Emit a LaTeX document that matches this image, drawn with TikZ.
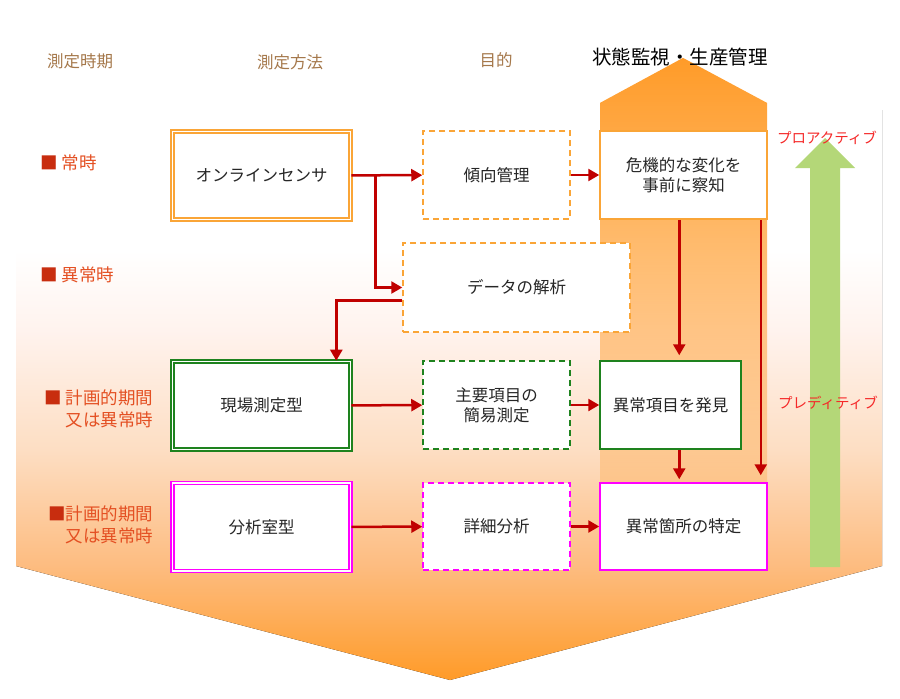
\documentclass[tikz,border=0pt]{standalone}
\usepackage{fontspec}
\setmainfont{Noto Sans CJK JP}
\usetikzlibrary{arrows.meta, positioning, calc, fadings}
\definecolor{BoxOrange}{RGB}{250,165,55}
\definecolor{BoxGreen}{RGB}{30,130,30}
\definecolor{BoxMagenta}{RGB}{255,0,255}
\definecolor{ArrowRed}{RGB}{192,0,0}
\definecolor{HeadBrown}{RGB}{165,120,75}
\definecolor{LabelRed}{RGB}{228,80,35}
\definecolor{MarkRed}{RGB}{200,45,15}
\definecolor{TermRed}{RGB}{245,40,40}
\definecolor{ArrowGreen}{RGB}{180,215,120}
\definecolor{HouseOrange}{RGB}{255,155,40}
\definecolor{BgA}{RGB}{255,243,238}
\definecolor{BgB}{RGB}{253,222,195}
\definecolor{BgC}{RGB}{253,188,128}
\definecolor{BgD}{RGB}{255,155,40}
\pgfdeclareverticalshading{bgshade}{100bp}{color(0bp)=(BgD); color(25bp)=(BgD); color(35bp)=(BgC); color(45.2bp)=(BgB); color(55.7bp)=(BgA); color(62.7bp)=(white); color(100bp)=(white)}
\tikzfading[name=housefade, top color=transparent!0, middle color=transparent!72, bottom color=transparent!88]

\begin{document}
\begin{tikzpicture}[
    x=1pt, y=-1pt,
    % --- STYLES ---
    % Base: white box, dark text
    box/.style={
        rectangle,
        inner sep=0pt,
        fill=white,
        align=center,
        text=black!85,
        font=\fontsize{16.5}{20}\selectfont
    },
    % Method: double border
    method/.style={
        box,
        line width=1.6pt,
        double=white,
        double distance=1.4pt,
        minimum width=178pt,
        minimum height=88pt
    },
    % Purpose: dashed border
    purpose/.style={
        box,
        line width=1.5pt,
        dash pattern=on 6pt off 4pt,
        minimum width=147pt,
        minimum height=88pt
    },
    % Result: plain border
    result/.style={
        box,
        line width=1.5pt,
        minimum height=88pt
    },
    % Arrows: dark red
    arrow/.style={
        ArrowRed,
        line width=2.5pt,
        -{Triangle[length=11pt, width=12pt]}
    },
    header/.style={text=HeadBrown, font=\fontsize{16.5}{18}\selectfont},
    period/.style={text=LabelRed, align=right, font=\fontsize{17.5}{22}\selectfont},
    term/.style={text=TermRed, font=\fontsize{14.5}{17}\selectfont}
]
\useasboundingbox (0,0) rectangle (900,699);

% --- BACKGROUND ARROWS ---
\fill[shading=bgshade] (16,110) -- (882,110) -- (882,566) -- (450,680) -- (16,566) -- cycle;
\fill[HouseOrange, path fading=housefade] (600,566) -- (600,103) -- (683,58) -- (767,103) -- (767,566) -- cycle;
\fill[ArrowGreen] (810,567) -- (810,168) -- (795,168) -- (825,138) -- (855,168) -- (840,168) -- (840,567) -- cycle;

% --- HEADERS ---
\node (hdrtime) [header] at (80,61) {測定時期};
\node (hdrmethod) [header] at (290,62) {測定方法};
\node (hdrpurpose) [header] at (496,60) {目的};
\node (title) [font=\fontsize{19.5}{22}\selectfont] at (680,57) {状態監視・生産管理};

% --- PERIOD LABELS ---
\node (always) [period, anchor=west] at (37,163) {\textcolor{MarkRed}{■} 常時};
\node (abnormal) [period, anchor=west] at (37,275) {\textcolor{MarkRed}{■} 異常時};
\node (planned) [period, anchor=east] at (157,409) {\textcolor{MarkRed}{■} 計画的期間\\又は異常時};
\node (plannedlab) [period, anchor=east] at (157,525) {\textcolor{MarkRed}{■}計画的期間\\又は異常時};

% --- ROW 1: ONLINE ---
\node (sensor) [method, draw=BoxOrange] at (261.5,175.5) {オンラインセンサ};
\node (trend) [purpose, draw=BoxOrange] at (496.5,175) {傾向管理};
\node (detect) [result, draw=BoxOrange, minimum width=167pt] at (683.5,175) {危機的な変化を\\事前に察知};

% --- ROW 2: ANALYSIS ---
\node (analysis) [purpose, draw=BoxOrange, minimum width=227pt, minimum height=89pt] at (516.5,287.5) {データの解析};

% --- ROW 3: FIELD ---
\node (field) [method, draw=BoxGreen] at (261.5,405.5) {現場測定型};
\node (simple) [purpose, draw=BoxGreen] at (496.5,405) {主要項目の\\簡易測定};
\node (findabn) [result, draw=BoxGreen, minimum width=141pt] at (670.5,405) {異常項目を発見};

% --- ROW 4: LAB ---
\node (lab) [method, draw=BoxMagenta] at (261.5,527) {分析室型};
\node (detail) [purpose, draw=BoxMagenta, minimum height=87pt] at (496.5,526.5) {詳細分析};
\node (locate) [result, draw=BoxMagenta, minimum width=167pt, minimum height=87pt] at (683.5,526.5) {異常箇所の特定};

% --- SIDE TERMS ---
\node (proactive) [term] at (827,138) {プロアクティブ};
\node (predictive) [term] at (828,403) {プレディティブ};

% --- CONNECTIONS ---
\coordinate (split) at ($(sensor.east)+(24,0)$);
\draw [arrow] (sensor) -- (trend);
\draw [arrow] (split) |- (analysis.west);
\draw [arrow] (trend) -- (detect);
\draw [arrow] ([yshift=-13pt]analysis.west) -| ([xshift=-15pt]field.north east);

% Down from the goal box
\draw [arrow, shorten >=5pt] ([xshift=80pt]findabn.north west |- detect.south) -- ([xshift=80pt]findabn.north west);
\draw [arrow, shorten >=7pt] ([xshift=-7pt]detect.south east) -- ([xshift=-7pt]locate.north east);
\draw [arrow, shorten >=3pt] ([xshift=80pt]findabn.south west) -- ([xshift=80pt]locate.north west);

% Rows 3 and 4
\draw [arrow] (field) -- (simple);
\draw [arrow] (simple) -- (findabn);
\draw [arrow] (lab) -- (detail);
\draw [arrow] (detail) -- (locate);

\end{tikzpicture}
\end{document}
